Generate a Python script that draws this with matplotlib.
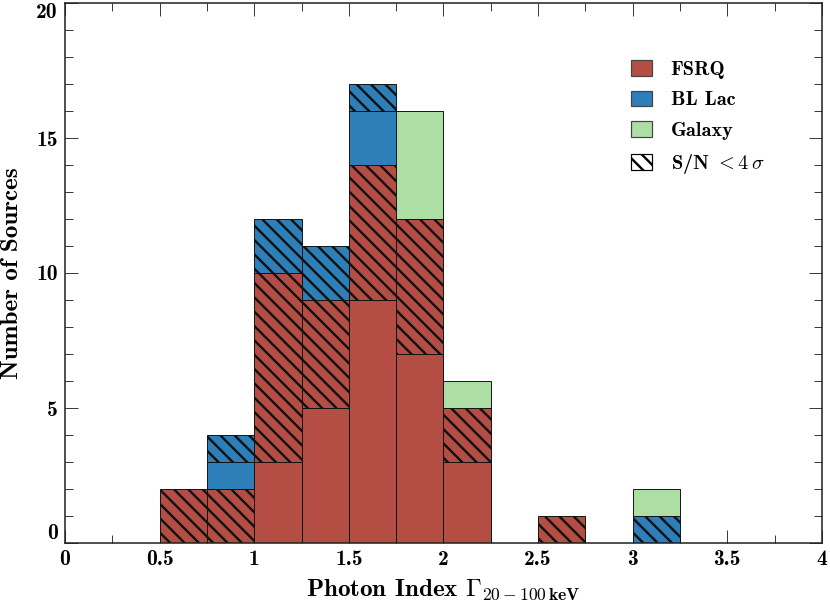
import numpy as np
import matplotlib
matplotlib.use("Agg")
import matplotlib.pyplot as plt
from matplotlib.patches import Patch

# ---- data ----
bin_left = [0.5, 0.75, 1.0, 1.25, 1.5, 1.75, 2.0, 2.25, 2.5, 2.75, 3.0]
fsrq_high = [0, 0, 3, 5, 9, 7, 3, 0, 0, 0, 0]
fsrq_low = [2, 2, 7, 4, 5, 5, 2, 0, 1, 0, 0]
bllac_high = [0, 1, 0, 0, 2, 0, 0, 0, 0, 0, 0]
bllac_low = [0, 1, 2, 2, 1, 0, 0, 0, 0, 0, 1]
galaxy_high = [0, 0, 0, 0, 0, 4, 1, 0, 0, 0, 1]
bin_width = 0.25

x_ticks = [0, 0.5, 1, 1.5, 2, 2.5, 3, 3.5, 4]
x_ticklabels = ["0", "0.5", "1", "1.5", "2", "2.5", "3", "3.5", "4"]
y_ticks = [0, 5, 10, 15, 20]
y_ticklabels = ["0", "5", "10", "15", "20"]

c_fsrq = "#b44e44"
c_bllac = "#2c7fb8"
c_gal = "#addea3"

plt.rcParams["font.family"] = "cmb10"
plt.rcParams["mathtext.fontset"] = "cm"
plt.rcParams["axes.unicode_minus"] = False
plt.rcParams["hatch.linewidth"] = 2.0

HATCH = "\\\\"

DPI = 86
fig = plt.figure(figsize=(830 / DPI, 602 / DPI), dpi=DPI)
ax = fig.add_axes([65 / 830, 1 - 543 / 602, (822 - 65) / 830, (543 - 3) / 602])

segments = [
    (fsrq_high, c_fsrq, None),
    (fsrq_low, c_fsrq, HATCH),
    (bllac_high, c_bllac, None),
    (bllac_low, c_bllac, HATCH),
    (galaxy_high, c_gal, None),
]
bottom = np.zeros(len(bin_left))
for vals, col, hatch in segments:
    vals = np.array(vals, dtype=float)
    mask = vals > 0
    ax.bar(np.array(bin_left)[mask], vals[mask], width=bin_width, bottom=bottom[mask],
           align="edge", color=col, edgecolor="#111111", linewidth=0.8, hatch=hatch, zorder=2)
    bottom += vals

ax.set_xlim(0, 4)
ax.set_ylim(0, 20)
ax.set_xticks(x_ticks)
ax.set_xticklabels(x_ticklabels)
ax.set_yticks(y_ticks)
ax.set_yticklabels(y_ticklabels)
ax.set_xticks(np.arange(0, 4.01, 0.25), minor=True)
ax.set_yticks(np.arange(0, 20.01, 1), minor=True)

ax.tick_params(which="both", direction="in", top=True, right=True, width=0.8, color="#333333")
ax.tick_params(which="major", length=10.9, labelsize=18, pad=6)
ax.tick_params(which="minor", length=6.7)
ylabels = ax.get_yticklabels()
ylabels[0].set_verticalalignment("bottom")
ylabels[-1].set_verticalalignment("top")

for s in ax.spines.values():
    s.set_linewidth(1.3)
    s.set_color("#222222")

ax.set_xlabel(r"Photon Index $\Gamma_{\mathbf{20-100\,keV}}$", fontsize=21, va="top")
ax.xaxis.set_label_coords(0.5, -(577 - 543) / 540)
ax.set_ylabel("Number of Sources", fontsize=21)
ax.yaxis.set_label_coords(-(65 - 23) / 757, 0.5)

handles = [
    Patch(facecolor=c_fsrq, edgecolor="#444444", label="FSRQ"),
    Patch(facecolor=c_bllac, edgecolor="#444444", label="BL Lac"),
    Patch(facecolor=c_gal, edgecolor="#444444", label="Galaxy"),
    Patch(facecolor="white", edgecolor="black", hatch=HATCH, label=r"S/N $<\mathbf{4}\,\sigma$"),
]
ax.legend(handles=handles, loc="upper left", bbox_to_anchor=((631 - 65) / 757, (543 - 60) / 540),
          frameon=False, fontsize=17, handlelength=1.05, handleheight=0.8,
          handletextpad=0.9, labelspacing=0.58, borderpad=0, borderaxespad=0)

fig.savefig("out.png", dpi=DPI)
